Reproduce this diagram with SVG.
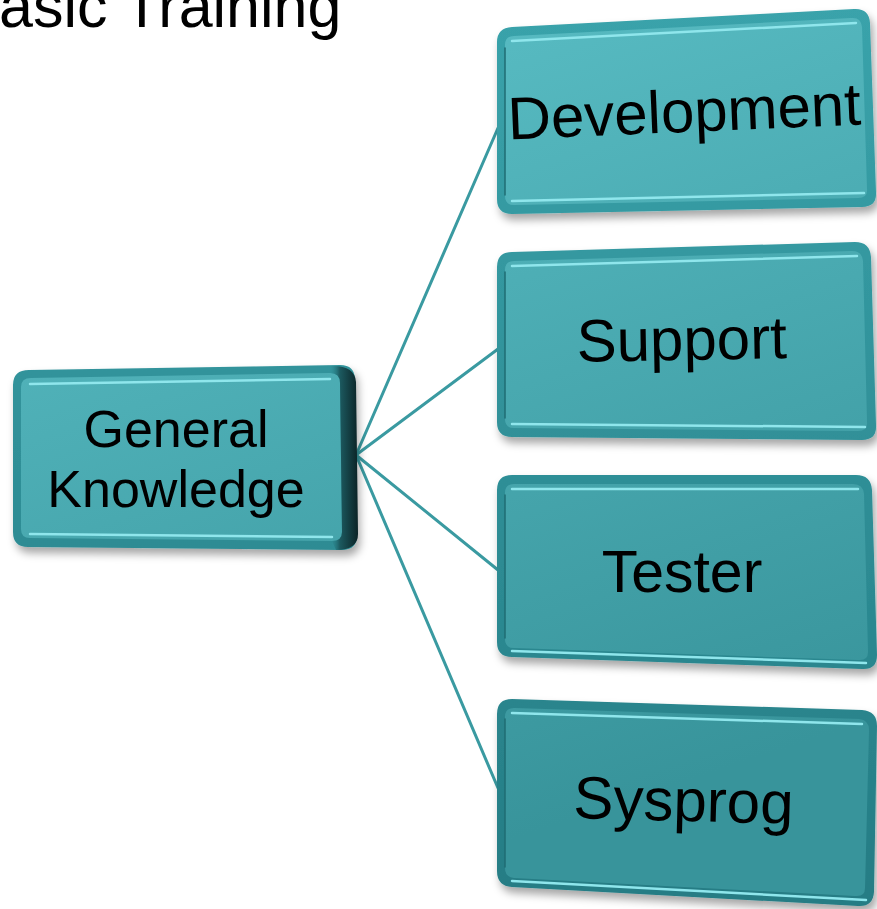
<svg xmlns="http://www.w3.org/2000/svg" width="877" height="909" viewBox="0 0 877 909">
<defs>
<linearGradient id="face" gradientUnits="userSpaceOnUse" x1="0" y1="0" x2="300" y2="909">
<stop offset="0" stop-color="#5ec3ca"/>
<stop offset="1" stop-color="#38949b"/>
</linearGradient>
<linearGradient id="rim" gradientUnits="userSpaceOnUse" x1="0" y1="0" x2="0" y2="909">
<stop offset="0" stop-color="#3aa3ab"/>
<stop offset="1" stop-color="#257c84"/>
</linearGradient>
<linearGradient id="side" x1="0" y1="0" x2="1" y2="0">
<stop offset="0" stop-color="#2a8890" stop-opacity="0"/>
<stop offset="0.35" stop-color="#1c5a60"/>
<stop offset="1" stop-color="#0b2326"/>
</linearGradient>
<filter id="sh" x="-10%" y="-10%" width="125%" height="130%">
<feDropShadow dx="3" dy="6" stdDeviation="4" flood-color="#000" flood-opacity="0.35"/>
</filter>
</defs>
<style>
.rim{fill:url(#rim);filter:url(#sh)}
.face{fill:url(#face)}
.hl{fill:none;stroke:#8fe6ec;stroke-width:2.5;stroke-linecap:round}
.dk{fill:none;stroke:#1f6c73;stroke-width:1.5;stroke-linecap:round}
.lbl{font-family:"Liberation Sans",Arial,sans-serif;fill:#000;text-anchor:middle}
.conn{stroke:#3a9aa1;stroke-width:3;fill:none;stroke-linecap:round}
</style>
<text x="-1" y="27" font-family="Liberation Sans, Arial, sans-serif" font-size="61" fill="#000">asic Training</text>
<g id="connectors">
<line class="conn" x1="356" y1="455" x2="498" y2="128"/>
<line class="conn" x1="356" y1="455" x2="498" y2="349"/>
<line class="conn" x1="356" y1="455" x2="498" y2="570"/>
<line class="conn" x1="356" y1="455" x2="498" y2="788"/>
</g>
<g id="general">
<path class="rim" d="M29,370 L340,365 Q355,365 355,380 L357,535 Q357,550 342,550 L28,547 Q13,547 13,532 L13,385 Q13,370 29,370 Z"/>
<path class="face" d="M31,378 L330,373 Q340,373 340,383 L342,532 Q342,541 332,541 L30,538 Q21,538 21,529 L21,387 Q21,378 31,378 Z"/>
<path d="M330,366 Q355,365 356,382 L358,534 Q358,550 336,550 L332,541 Q342,541 342,532 L340,383 Q340,373 330,373 Z" fill="url(#side)"/>
<path class="hl" d="M30,384 L330,379"/>
<path class="hl" d="M30,534 L332,537"/>
<text class="lbl" x="176" y="447" font-size="52">General</text>
<text class="lbl" x="176" y="507" font-size="52">Knowledge</text>
</g>
<g id="development">
<path class="rim" d="M512,27 L854,9 Q869,8 870,23 L876,192 Q877,207 862,207 L512,214 Q497,214 497,199 L497,42 Q497,28 512,27 Z"/>
<path class="face" d="M514,36 L851,18 Q861,17 862,27 L867,189 Q868,198 858,198 L514,205 Q505,205 505,196 L505,45 Q505,36 514,36 Z"/>
<path class="hl" d="M512,201 L864,193"/>
<path class="hl" d="M512,41 L856,23"/>
<path class="dk" d="M505,48 L505,195"/>
<text class="lbl" x="685" y="132" font-size="60" transform="rotate(-2.4 685 132)">Development</text>
</g>
<g id="support">
<path class="rim" d="M512,252 L855,242 Q870,242 871,257 L876,425 Q877,440 862,440 L512,437 Q497,437 497,422 L497,267 Q497,252 512,252 Z"/>
<path class="face" d="M514,261 L852,251 Q862,251 863,261 L867,422 Q868,431 858,431 L514,428 Q505,428 505,419 L505,270 Q505,261 514,261 Z"/>
<path class="hl" d="M512,424 L865,427"/>
<path class="hl" d="M512,266 L857,256"/>
<path class="dk" d="M505,272 L505,418"/>
<text class="lbl" x="682" y="360" font-size="60" transform="rotate(-1 682 360)">Support</text>
</g>
<g id="tester">
<path class="rim" d="M512,475 L856,475 Q871,475 872,490 L877,655 Q877,670 862,669 L512,657 Q497,657 497,642 L497,490 Q497,475 512,475 Z"/>
<path class="face" d="M514,484 L853,484 Q863,484 864,494 L868,652 Q868,661 858,660 L514,648 Q505,648 505,639 L505,493 Q505,484 514,484 Z"/>
<path class="hl" d="M512,651 L866,663"/>
<path class="hl" d="M512,489 L858,489"/>
<path class="dk" d="M505,495 L505,638"/>
<text class="lbl" x="682" y="592" font-size="59">Tester</text>
</g>
<g id="sysprog">
<path class="rim" d="M512,699 L862,710 Q877,711 877,726 L874,892 Q873,907 858,906 L512,887 Q497,886 497,871 L497,714 Q497,699 512,699 Z"/>
<path class="face" d="M514,708 L859,719 Q869,720 869,730 L865,888 Q865,897 855,896 L514,878 Q505,877 505,868 L505,717 Q505,708 514,708 Z"/>
<path class="hl" d="M512,881 L866,900"/>
<path class="hl" d="M512,713 L862,724"/>
<path class="dk" d="M505,719 L505,867"/>
<text class="lbl" x="683" y="821" font-size="60" transform="rotate(1.5 683 821)">Sysprog</text>
</g>
</svg>
